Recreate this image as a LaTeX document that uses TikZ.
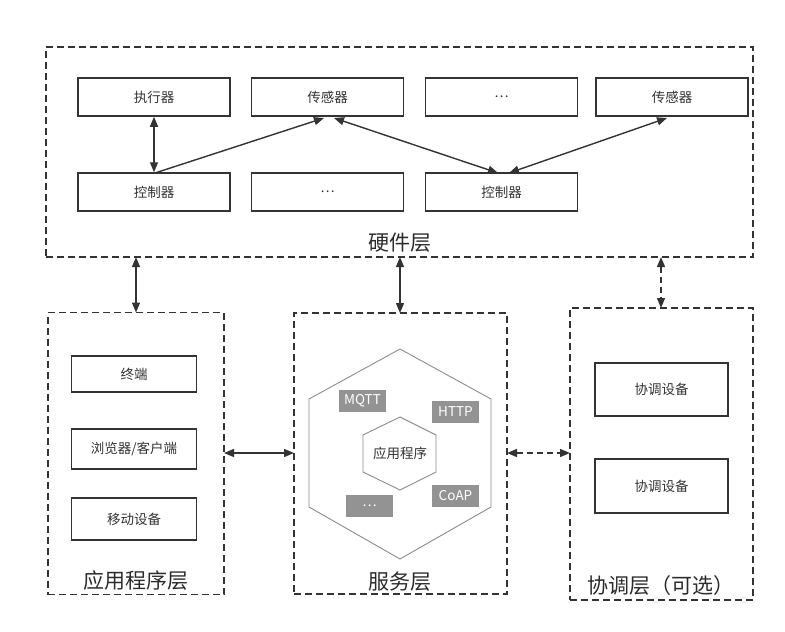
\documentclass[tikz,border=0pt]{standalone}
\usepackage{fontspec}
\setmainfont{Noto Sans CJK SC}
\usetikzlibrary{arrows.meta}
\definecolor{ink}{HTML}{333333}
\definecolor{tagfill}{HTML}{939393}
\begin{document}
\begin{tikzpicture}[x=1pt,y=-1pt,
  layer/.style={draw=ink,line width=1.7pt,dash pattern=on 7pt off 4pt},
  box/.style={draw=ink,line width=1.5pt,minimum width=152pt,minimum height=38pt,inner sep=0pt,text=ink,font=\fontsize{13.5}{15}\selectfont},
  sbox/.style={draw=ink,line width=1.5pt,minimum width=125pt,inner sep=0pt,text=ink,font=\fontsize{13.5}{15}\selectfont},
  tag/.style={fill=tagfill,minimum width=47pt,minimum height=22pt,inner sep=0pt,text=white,font=\fontsize{13.5}{15}\selectfont},
  lbl/.style={text=ink!85!black,font=\fontsize{21}{23}\selectfont,inner sep=0pt},
  conn/.style={draw=ink,line width=1.4pt,-{Triangle[length=10pt,width=8pt]}},
  bconn/.style={draw=ink,line width=1.4pt,{Triangle[length=10pt,width=8pt]}-{Triangle[length=10pt,width=8pt]}},
  dconn/.style={bconn,dash pattern=on 6pt off 4pt},
  hex/.style={draw=gray!90,line width=0.9pt}]
\useasboundingbox (0,0) rectangle (785,632);
% hardware layer
\node[layer,minimum width=707pt,minimum height=210pt,inner sep=0pt] (hw) at (399.5,152) {};
\node[lbl] (hwl) at (399.5,243) {硬件层};
\node[box] (act) at (154,97) {执行器};
\node[box] (s1) at (327.5,97) {传感器};
\node[box] (d1) at (501.5,97) {…};
\node[box] (s2) at (672,97) {传感器};
\node[box] (c1) at (154,192) {控制器};
\node[box] (d2) at (327.5,192) {…};
\node[box] (c2) at (501.5,192) {控制器};
\coordinate (c1t) at (155,173);
\coordinate (s1a) at (324,118);
\coordinate (s1b) at (334,118);
\coordinate (c2a) at (498,173);
\coordinate (c2b) at (509,173);
\coordinate (s2a) at (667,118);
\draw[bconn] (act.south) -- (c1.north);
\draw[conn] (c1t) -- (s1a);
\draw[bconn] (s1b) -- (c2a);
\draw[bconn] (c2b) -- (s2a);
% application layer
\node[layer,minimum width=176pt,minimum height=282pt,inner sep=0pt] (app) at (136,453.5) {};
\node[lbl] (appl) at (136,581) {应用程序层};
\node[sbox,minimum height=36pt] (term) at (134,374) {终端};
\node[sbox,minimum height=40pt] (brow) at (134,449) {浏览器/客户端};
\node[sbox,minimum height=42pt] (mob) at (134,519) {移动设备};
% service layer
\node[layer,minimum width=213pt,minimum height=281pt,inner sep=0pt] (svc) at (400.5,453.5) {};
\node[lbl] (svcl) at (400,582) {服务层};
\draw[hex] (400,349) -- (491,399) -- (491,507) -- (400,559) -- (309,507) -- (309,399) -- cycle;
\draw[hex] (400,417) -- (436,435) -- (436,472) -- (400,490) -- (363,472) -- (363,435) -- cycle;
\node[text=ink,font=\fontsize{13.5}{15}\selectfont] (appc) at (400,453) {应用程序};
\node[tag] (mqtt) at (362.5,401) {MQTT};
\node[tag] (http) at (455.5,412) {HTTP};
\node[tag] (coap) at (455.5,495.5) {CoAP};
\node[tag] (dots) at (369.5,506) {…};
% coordination layer
\node[layer,minimum width=183pt,minimum height=292pt,inner sep=0pt] (crd) at (661.5,454) {};
\node[lbl] (crdl) at (661,586) {协调层（可选）};
\node[sbox,minimum width=133pt,minimum height=53pt] (cd1) at (661.5,389.5) {协调设备};
\node[sbox,minimum width=133pt,minimum height=54pt] (cd2) at (661.5,486) {协调设备};
% inter-layer connectors
\coordinate (hwA) at (136,257);
\coordinate (hwS) at (400,257);
\coordinate (hwC) at (661,257);
\coordinate (appT) at (136,312.5);
\coordinate (svcT) at (400,313);
\coordinate (crdT) at (661,308);
\coordinate (appR) at (224,453);
\coordinate (svcL) at (294,453);
\coordinate (svcR) at (507,453);
\coordinate (crdL) at (570,453);
\draw[bconn] (hwA) -- (appT);
\draw[bconn] (hwS) -- (svcT);
\draw[dconn] (hwC) -- (crdT);
\draw[bconn] (appR) -- (svcL);
\draw[dconn] (svcR) -- (crdL);
\end{tikzpicture}
\end{document}
